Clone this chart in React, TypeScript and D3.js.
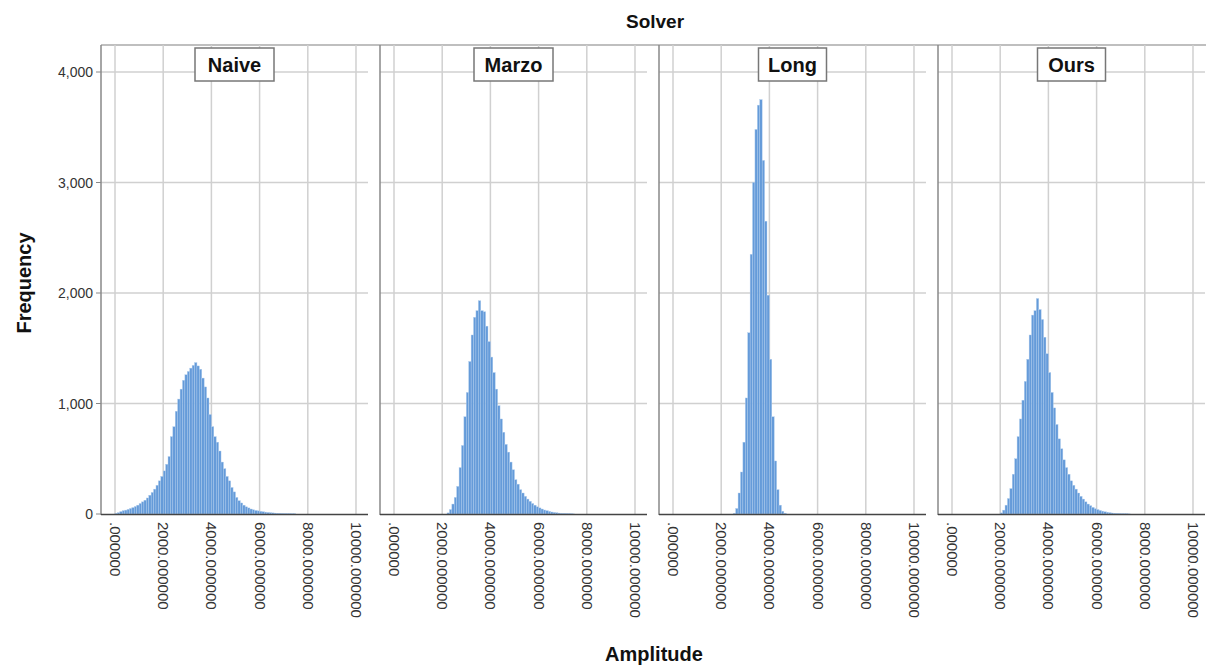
import * as d3 from "d3";

// histogram bins are 100 wide; each series lists counts from its first bin
const BIN_WIDTH = 100;
const SOLVERS = ["Naive", "Marzo", "Long", "Ours"];
const BIN_START = [0, 2200, 2500, 2000];

const naiveCounts = [
  5, 12, 22, 30, 35, 42, 50, 58, 68, 80, 95, 110, 125, 145, 170, 195, 225, 260, 300, 340,
  390, 450, 520, 700, 790, 930, 1040, 1130, 1210, 1260, 1290, 1320, 1345, 1370, 1340, 1310,
  1230, 1150, 1050, 900, 790, 700, 650, 570, 470, 410, 340, 300, 240, 200, 150, 120, 100, 80,
  65, 55, 45, 38, 32, 28, 24, 20, 17, 14, 12, 10, 8, 7, 6, 5, 4, 3, 3, 2, 2,
];
const marzoCounts = [
  10, 40, 90, 150, 250, 420, 620, 880, 1100, 1380, 1620, 1780, 1840, 1930, 1840, 1830, 1700,
  1560, 1420, 1280, 1130, 980, 860, 740, 630, 560, 470, 400, 310, 270, 220, 190, 160, 135, 115,
  95, 80, 65, 55, 45, 36, 30, 24, 18, 14, 11, 8, 6, 5, 4, 3, 2, 1,
];
const longCounts = [
  5, 50, 190, 380, 650, 1050, 1640, 2350, 3000, 3480, 3700, 3750, 3200, 2650, 1980, 1400, 880,
  480, 220, 80, 25, 6,
];
const oursCounts = [
  10, 35, 80, 140, 230, 360, 500, 700, 860, 1030, 1200, 1400, 1620, 1800, 1840, 1950, 1850, 1760,
  1600, 1450, 1280, 1100, 960, 810, 680, 590, 490, 420, 360, 300, 260, 225, 190, 160, 135, 110,
  90, 75, 60, 48, 40, 32, 26, 20, 16, 12, 9, 7, 5, 4, 3, 2, 2, 1,
];
const COUNTS = [naiveCounts, marzoCounts, longCounts, oursCounts];

const X_TICKS = [0, 2000, 4000, 6000, 8000, 10000];
const X_TICK_LABELS = [".000000", "2000.000000", "4000.000000", "6000.000000", "8000.000000", "10000.000000"];
const Y_TICKS = [0, 1000, 2000, 3000, 4000];

const W = 1206;
const H = 668;
const PANEL_LEFT = 101;
const PANEL_STEP = 279;
const PANEL_W = 267;
const TOP = 45;
const BASE = 514;

const FONT = "'Liberation Sans', Arial, sans-serif";

export default function App() {
  const y = d3.scaleLinear().domain([0, 4000]).range([BASE, 72]);
  const fmt = d3.format(",");

  return (
    <svg
      width={W}
      height={H}
      style={{ position: "absolute", left: 0, top: 0, background: "#fff" }}
      fontFamily={FONT}
    >
      <text x={655} y={28} textAnchor="middle" fontSize={19} fontWeight="bold" fill="#111">
        Solver
      </text>
      <line x1={PANEL_LEFT} x2={W} y1={TOP} y2={TOP} stroke="#aaa" strokeWidth={1.5} />

      {/* y axis labels */}
      {Y_TICKS.map((t) => (
        <text key={t} x={93} y={y(t) + 5} textAnchor="end" fontSize={14} fill="#333">
          {fmt(t)}
        </text>
      ))}
      <text
        transform={`translate(31,${283}) rotate(-90)`}
        textAnchor="middle"
        fontSize={20}
        fontWeight="bold"
        fill="#111"
      >
        Frequency
      </text>

      {SOLVERS.map((name, p) => {
        const left = PANEL_LEFT + p * PANEL_STEP;
        const x = d3.scaleLinear().domain([-581, 10498]).range([left, left + PANEL_W]);
        const counts = COUNTS[p];
        const cx = left + PANEL_W / 2;
        const boxW = name.length * 11 + 24;
        return (
          <g key={name}>
            {/* grid */}
            {Y_TICKS.filter((t) => t > 0).map((t) => (
              <line key={t} x1={left} x2={left + PANEL_W} y1={y(t)} y2={y(t)} stroke="#d0d0d0" strokeWidth={1.5} />
            ))}
            {X_TICKS.map((t) => (
              <line key={t} x1={x(t)} x2={x(t)} y1={TOP} y2={BASE} stroke="#d0d0d0" strokeWidth={1.5} />
            ))}
            {/* bars */}
            {counts.map((c, i) => {
              const x0 = BIN_START[p] + i * BIN_WIDTH;
              return (
                <rect
                  key={i}
                  x={x(x0)}
                  width={x(x0 + BIN_WIDTH) - x(x0)}
                  y={y(c)}
                  height={BASE - y(c)}
                  fill="#659bd9"
                  stroke="#b0cdee"
                  strokeWidth={0.4}
                />
              );
            })}
            {/* axes */}
            <line x1={left} x2={left} y1={TOP} y2={BASE + 1} stroke="#888" strokeWidth={1.5} />
            <line x1={left} x2={left + PANEL_W} y1={BASE + 0.5} y2={BASE + 0.5} stroke="#444" strokeWidth={1.5} />
            {p === 0 &&
              Y_TICKS.map((t) => (
                <line key={t} x1={left - 5} x2={left} y1={y(t)} y2={y(t)} stroke="#888" strokeWidth={1} />
              ))}
            {X_TICKS.map((t, i) => (
              <text
                key={t}
                transform={`translate(${x(t) - 5},${BASE + 8}) rotate(90)`}
                fontSize={15}
                fill="#333"
              >
                {X_TICK_LABELS[i]}
              </text>
            ))}
            {/* strip label */}
            <rect
              x={cx - boxW / 2}
              y={48}
              width={boxW}
              height={33}
              fill="#fff"
              stroke="#777"
              strokeWidth={1.5}
            />
            <text x={cx} y={72} textAnchor="middle" fontSize={20} fontWeight="bold" fill="#111">
              {name}
            </text>
          </g>
        );
      })}

      <text x={654} y={661} textAnchor="middle" fontSize={20} fontWeight="bold" fill="#111">
        Amplitude
      </text>
    </svg>
  );
}
